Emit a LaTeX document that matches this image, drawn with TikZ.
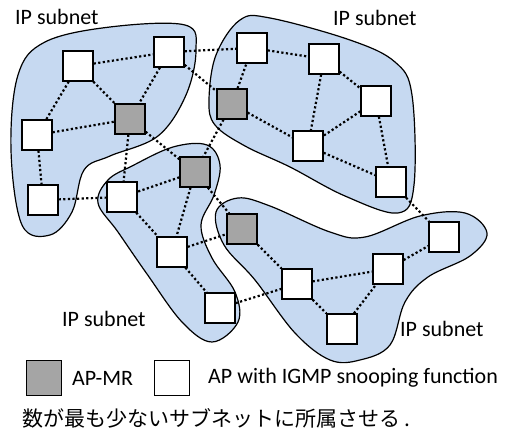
\documentclass[tikz,border=0pt]{standalone}
\usepackage{fontspec}
\setmainfont{Carlito}
\newfontfamily\jpfont{Noto Sans CJK JP}
\usepackage{tikz}
\definecolor{subnetblue}{RGB}{198,217,241}
\definecolor{mrgray}{RGB}{165,165,165}

\begin{document}
\begin{tikzpicture}[x=1pt,y=-1pt,
	subnet/.style={draw=black,line width=1.2pt,fill=subnetblue},
	ap/.style={draw=black,fill=white,line width=1.3pt,minimum size=30pt,inner sep=0pt},
	mr/.style={ap,fill=mrgray},
	link/.style={line width=2.2pt,dash pattern=on 2.2pt off 2.4pt},
	lbl/.style={anchor=west,inner sep=0pt,font=\fontsize{22}{26}\selectfont}]
	\useasboundingbox (0,0) rectangle (509,438);
	% subnets
	\draw[subnet] plot[smooth cycle,tension=0.6] coordinates {(11,150) (18,75) (45,42) (110,27) (185,25) (196,50) (186,95) (158,136) (110,156) (84,170) (72,212) (50,235) (22,225)};
	\draw[subnet] plot[smooth cycle,tension=0.6] coordinates {(209,100) (216,55) (240,20) (270,18) (350,40) (395,62) (412,95) (414,185) (398,213) (345,196) (290,167) (245,146) (215,125)};
	\draw[subnet] plot[smooth cycle,tension=0.6] coordinates {(173,147) (207,145) (220,165) (214,195) (201,225) (212,258) (235,292) (238,322) (212,342) (182,322) (147,274) (118,232) (98,203) (108,180) (132,166)};
	\draw[subnet] plot[smooth cycle,tension=0.6] coordinates {(216,212) (238,198) (270,206) (330,232) (365,237) (420,216) (465,213) (487,233) (470,256) (428,277) (405,302) (390,345) (360,360) (330,360) (295,333) (255,280) (224,245)};
	% APs
	\node[ap] (apA1) at (78,66) {};
	\node[ap] (apA2) at (169,52) {};
	\node[mr] (mrA) at (130,119) {};
	\node[ap] (apA3) at (37,135) {};
	\node[ap] (apA4) at (43,200) {};
	\node[mr] (mrB) at (195,172) {};
	\node[ap] (apB1) at (122,197) {};
	\node[ap] (apB2) at (172,252) {};
	\node[ap] (apB3) at (220,308) {};
	\node[ap] (apC1) at (252,48) {};
	\node[mr] (mrC) at (232,104) {};
	\node[ap] (apC2) at (324,59) {};
	\node[ap] (apC3) at (376,101) {};
	\node[ap] (apC4) at (308,146) {};
	\node[ap] (apC5) at (391,182) {};
	\node[mr] (mrD) at (242,229) {};
	\node[ap] (apD1) at (444,237) {};
	\node[ap] (apD2) at (388,269) {};
	\node[ap] (apD3) at (297,284) {};
	\node[ap] (apD4) at (342,329) {};
	% links
	\foreach \a/\b in {apA1/apA2,apA1/mrA,apA2/mrA,apA1/apA3,apA3/mrA,apA3/apA4,apA4/apB1,
		mrA/apB1,mrA/mrB,apA2/apC1,apA2/mrC,mrC/apC1,mrC/mrB,mrC/apC4,apC1/apC2,apC2/apC4,
		apC2/apC3,apC3/apC4,apC3/apC5,apC4/apC5,apC5/apD1,mrB/apB1,mrB/apB2,mrB/mrD,
		apB1/apB2,apB2/apB3,apB2/mrD,apB3/apD3,mrD/apD3,apD3/apD2,apD3/apD4,apD4/apD2,apD2/apD1}
		\draw[link] (\a) -- (\b);
	% labels
	\node[lbl] (ipA) at (15,17) {IP subnet};
	\node[lbl] (ipC) at (333,18) {IP subnet};
	\node[lbl] (ipB) at (62,319) {IP subnet};
	\node[lbl] (ipD) at (400,329) {IP subnet};
	% legend
	\node[mr,minimum size=35pt] (keyMR) at (44,378) {};
	\node[lbl] (txtMR) at (72,378) {AP-MR};
	\node[ap,minimum size=35pt] (keyAP) at (172,378) {};
	\node[lbl] (txtAP) at (208,378) {AP with IGMP snooping function};
	\node[anchor=west,inner sep=0pt,font=\jpfont\fontsize{21}{25}\selectfont] (note) at (22,418) {数が最も少ないサブネットに所属させる .};
\end{tikzpicture}
\end{document}
